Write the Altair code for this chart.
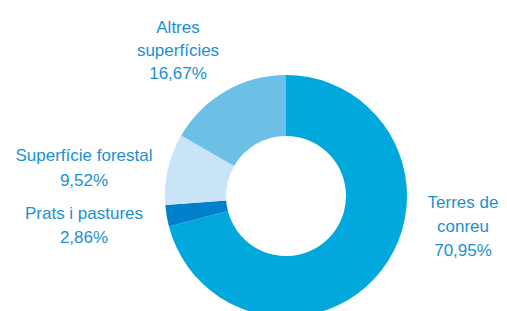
import altair as alt
import pandas as pd

categories = ["Terres de conreu", "Prats i pastures", "Superfície forestal", "Altres superfícies"]
display_labels = ["Terres de\nconreu", "Prats i pastures", "Superfície forestal", "Altres\nsuperfícies"]
values = [70.95, 2.86, 9.52, 16.67]
colors = ["#00a8db", "#0080c8", "#c8e4f6", "#6cc0e5"]

df = pd.DataFrame({
    "cat": categories,
    "val": values,
    "ord": list(range(len(categories))),
    "label": [f"{l}\n{v:.2f}".replace(".", ",") + "%" for l, v in zip(display_labels, values)],
})

CX, CY = 278, 188

arc = alt.Chart(df).mark_arc(outerRadius=121, innerRadius=60, stroke=None).encode(
    theta=alt.Theta("val:Q", stack=True),
    order=alt.Order("ord:Q"),
    color=alt.Color("cat:N", scale=alt.Scale(domain=categories, range=colors), legend=None),
    x=alt.value(CX),
    y=alt.value(CY),
)

label_pos = {
    "Altres superfícies": (170, 20, 23),
    "Superfície forestal": (76, 148, 25),
    "Prats i pastures": (76, 206, 24),
    "Terres de conreu": (455, 195, 24),
}

layers = [arc]
for cat, (lx, ly, lh) in label_pos.items():
    layers.append(
        alt.Chart(df).transform_filter(alt.datum.cat == cat).mark_text(
            font="Liberation Sans", fontSize=17, color="#1b8fd2",
            align="center", baseline="middle", lineBreak="\n", lineHeight=lh,
        ).encode(text="label:N", x=alt.value(lx), y=alt.value(ly))
    )

chart = alt.layer(*layers).properties(
    width=491, height=303, autosize=alt.AutoSizeParams(type="none"), padding=0
).configure_view(stroke=None)

chart.save("out.html", embed_options={"renderer": "svg", "actions": False})
